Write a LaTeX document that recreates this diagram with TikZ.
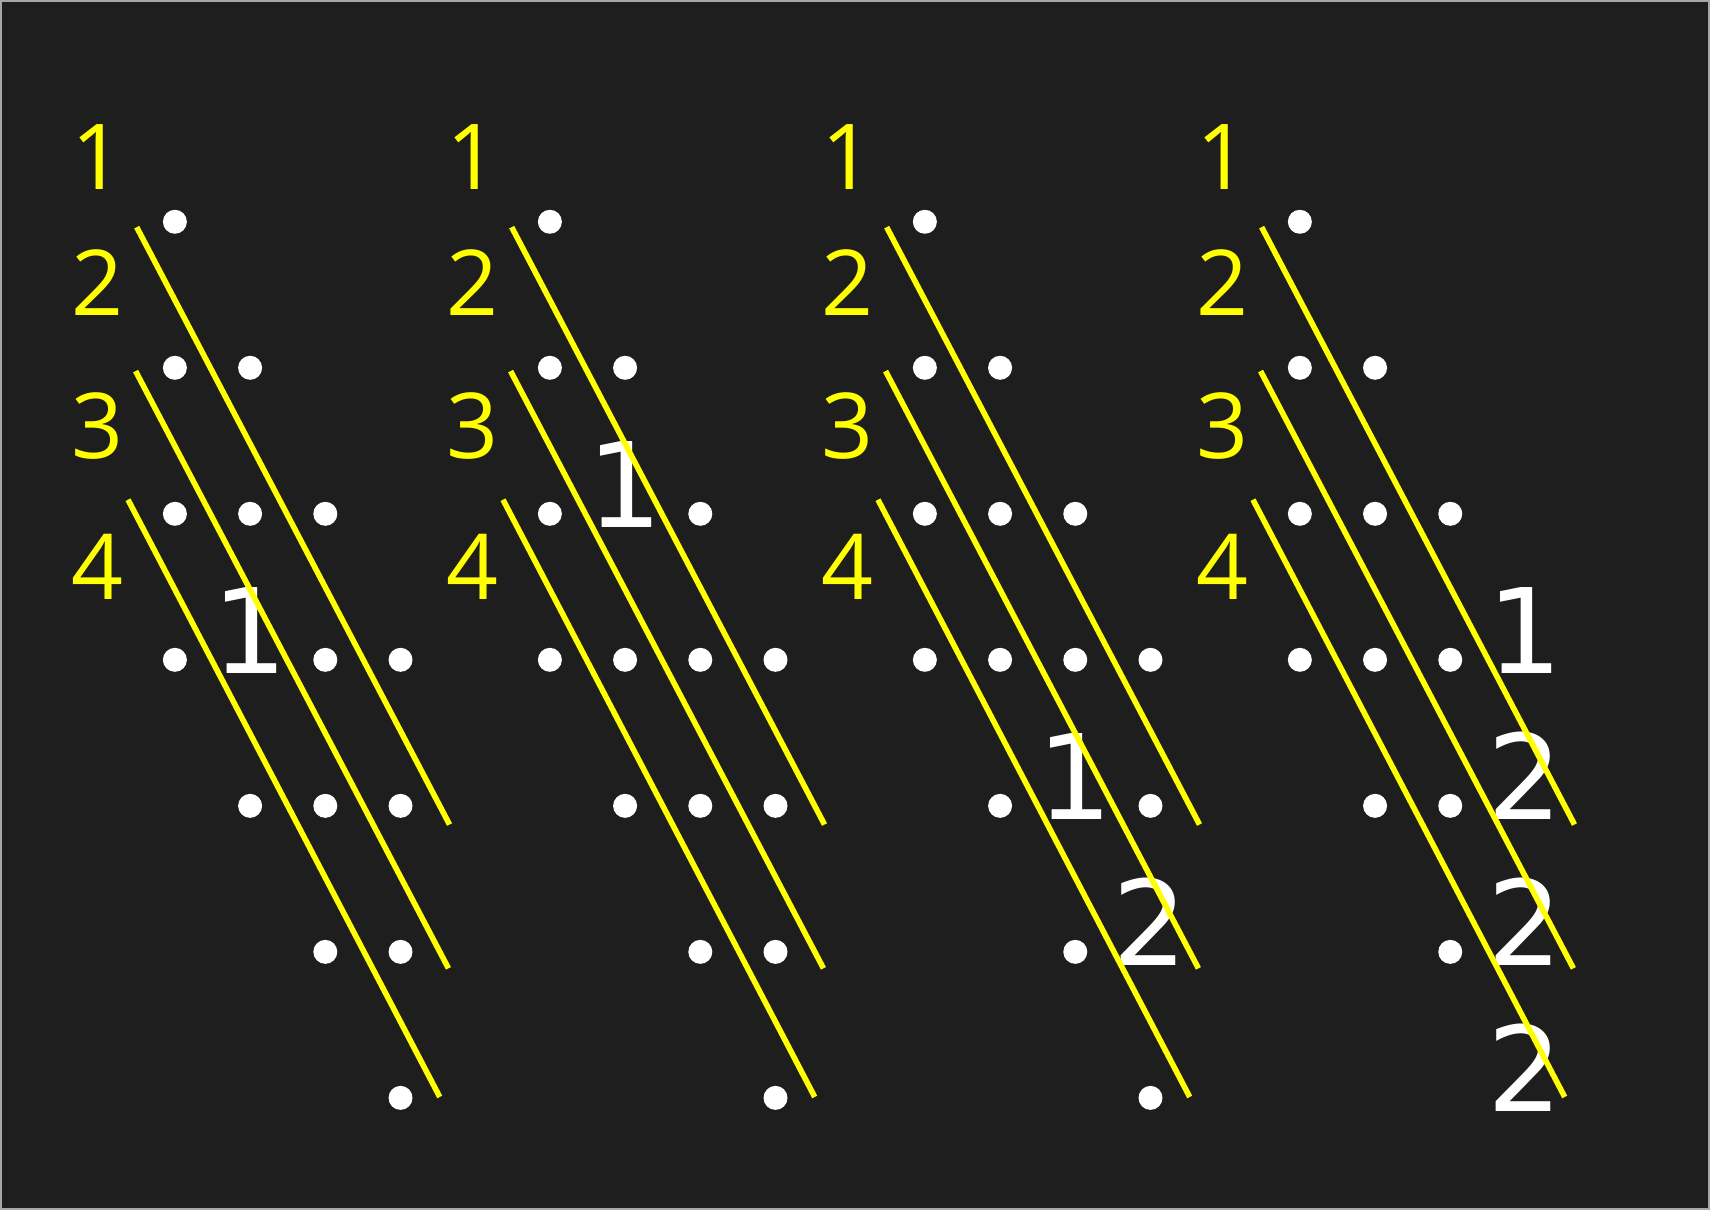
\documentclass[tikz,border=0pt]{standalone}
\usepackage{fontspec}
\newfontfamily\labfont{Open Sans}
\newfontfamily\digfont{DejaVu Sans}
\definecolor{bg}{HTML}{1E1E1E}
\definecolor{ylw}{HTML}{FFFF00}
\begin{document}
\begin{tikzpicture}[x=0.5pt,y=-0.5pt,
  dot/.style={circle,fill=white,inner sep=0pt,minimum size=12pt},
  rowlab/.style={text=ylw,font=\labfont\fontsize{45.5}{50}\selectfont,anchor=base,inner sep=0pt},
  bigdig/.style={text=white,font=\digfont\fontsize{59}{64}\selectfont,anchor=base,inner sep=0pt},
  diag/.style={draw=ylw,line width=2.8pt}]
\fill[bg] (0,0) rectangle (1710,1210);
\draw[gray!70,line width=1pt] (0.5,0.5) rectangle (1709.5,1209.5);
\useasboundingbox (0,0) rectangle (1710,1210);
% dots
\foreach \k/\lst in {
  0/{1/0,2/0,2/1,3/0,3/1,3/2,4/0,4/2,4/3,5/1,5/2,5/3,6/2,6/3,7/3},
  1/{1/0,2/0,2/1,3/0,3/2,4/0,4/1,4/2,4/3,5/1,5/2,5/3,6/2,6/3,7/3},
  2/{1/0,2/0,2/1,3/0,3/1,3/2,4/0,4/1,4/2,4/3,5/1,5/3,6/2,7/3},
  3/{1/0,2/0,2/1,3/0,3/1,3/2,4/0,4/1,4/2,5/1,5/2,6/2}} {
  \foreach \r/\c in \lst {
    \node[dot] (d\k-\r-\c) at ({174.5+75.25*\c+375.2*\k},{221.4+146.1*(\r-1)}) {};
  }
}
% white digits
\foreach \k/\r/\c/\t in {0/4/1/1,1/3/1/1,2/5/2/1,2/6/3/2,3/4/3/1,3/5/3/2,3/6/3/2,3/7/3/2} {
  \node[bigdig] (w\k-\r-\c) at ({174.5+75.25*\c+375.2*\k},{221.4+146.1*(\r-1)+14}) {\t};
}
% yellow row labels
\foreach \k in {0,...,3} {
  \foreach \n/\y in {1/189,2/315,3/458,4/599} {
    \node[rowlab] (lab\k-\n) at ({97+375.2*\k},\y) {\n};
  }
}
% diagonal lines
\foreach \k in {0,...,3} {
  \coordinate (a\k s) at ({136.3+375.2*\k},226.8);
  \coordinate (a\k e) at ({449.3+375.2*\k},824.5);
  \coordinate (b\k s) at ({135.2+375.2*\k},370.8);
  \coordinate (b\k e) at ({448.2+375.2*\k},968.4);
  \coordinate (c\k s) at ({127.6+375.2*\k},499.5);
  \coordinate (c\k e) at ({439.5+375.2*\k},1097.1);
  \draw[diag] (a\k s) -- (a\k e);
  \draw[diag] (b\k s) -- (b\k e);
  \draw[diag] (c\k s) -- (c\k e);
}
\end{tikzpicture}
\end{document}
